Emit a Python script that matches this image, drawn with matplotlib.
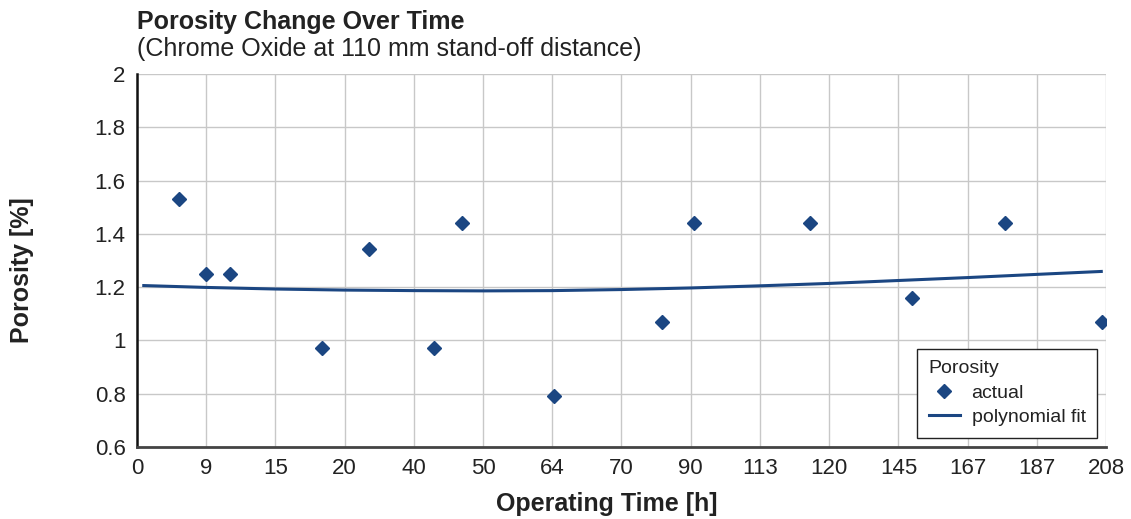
import matplotlib
matplotlib.use("Agg")
import matplotlib.pyplot as plt
import numpy as np

plt.rcParams['font.family'] = ['Liberation Sans', 'DejaVu Sans']

# x axis is categorical: evenly spaced hour labels
tick_labels = ['0', '9', '15', '20', '40', '50', '64', '70', '90',
               '113', '120', '145', '167', '187', '208']

# measured points, x as position along the category axis
actual_pos = [0.61, 1.0, 1.35, 2.68, 3.35, 4.29, 4.69, 6.03,
              7.58, 8.05, 9.72, 11.2, 12.54, 13.94]
actual_val = [1.53, 1.25, 1.25, 0.97, 1.345, 0.97, 1.44, 0.79,
              1.07, 1.44, 1.44, 1.16, 1.44, 1.07]

# polynomial fit curve
fit_pos = [0.1, 1, 2, 3, 4, 5, 6, 7, 8, 9, 10, 11, 12, 13, 13.93]
fit_val = [1.206, 1.199, 1.193, 1.189, 1.187, 1.186, 1.187, 1.191,
           1.197, 1.205, 1.214, 1.225, 1.236, 1.248, 1.259]

blue = '#1b4682'
txt = '#222222'

fig = plt.figure(figsize=(11.31, 5.19), dpi=100)
ax = fig.add_axes([0.121, 0.139, 0.857, 0.718])

ax.plot(fit_pos, fit_val, color=blue, lw=2.2, label='polynomial fit', zorder=3)
ax.plot(actual_pos, actual_val, 'D', color=blue, ms=6.8, lw=0, label='actual', zorder=4)

ax.set_xlim(0, 14)
ax.set_ylim(0.6, 2)
ax.set_xticks(range(len(tick_labels)))
ax.set_xticklabels(tick_labels)
ax.set_yticks([0.6, 0.8, 1, 1.2, 1.4, 1.6, 1.8, 2])
ax.set_yticklabels(['0.6', '0.8', '1', '1.2', '1.4', '1.6', '1.8', '2'])
ax.tick_params(length=0, labelsize=16, colors=txt)
ax.tick_params(axis='y', pad=8)
ax.tick_params(axis='x', pad=8)

ax.grid(True, color='#c8c8c8', lw=1)
ax.set_axisbelow(True)
for s in ['top', 'right']:
    ax.spines[s].set_visible(False)
ax.spines['left'].set_color('#111111')
ax.spines['left'].set_linewidth(1.8)
ax.spines['bottom'].set_color('#444444')
ax.spines['bottom'].set_linewidth(2)

ax.set_xlabel('Operating Time [h]', fontsize=18, fontweight='bold', color=txt)
ax.xaxis.set_label_coords(0.485, -0.122)
ax.set_ylabel('Porosity [%]', fontsize=18, fontweight='bold', color=txt)
ax.yaxis.set_label_coords(-0.106, 0.475)

fig.text(0.121, 0.958, 'Porosity Change Over Time', fontsize=18, fontweight='bold',
         color=txt, va='center', ha='left')
fig.text(0.121, 0.906, '(Chrome Oxide at 110 mm stand-off distance)', fontsize=18,
         color=txt, va='center', ha='left')

handles, labels = ax.get_legend_handles_labels()
leg = ax.legend(handles[::-1], labels[::-1], title='Porosity', loc='lower right',
                bbox_to_anchor=(0.991, 0.024), borderaxespad=0,
                fontsize=14, title_fontsize=14,
                fancybox=False, edgecolor=txt, framealpha=1,
                borderpad=0.6, handlelength=1.6, handletextpad=0.6,
                labelspacing=0.35)
leg._legend_box.align = 'left'
leg.get_frame().set_linewidth(1)
for t in leg.get_texts():
    t.set_color(txt)
leg.get_title().set_color(txt)

fig.savefig('out.png', dpi=100)
